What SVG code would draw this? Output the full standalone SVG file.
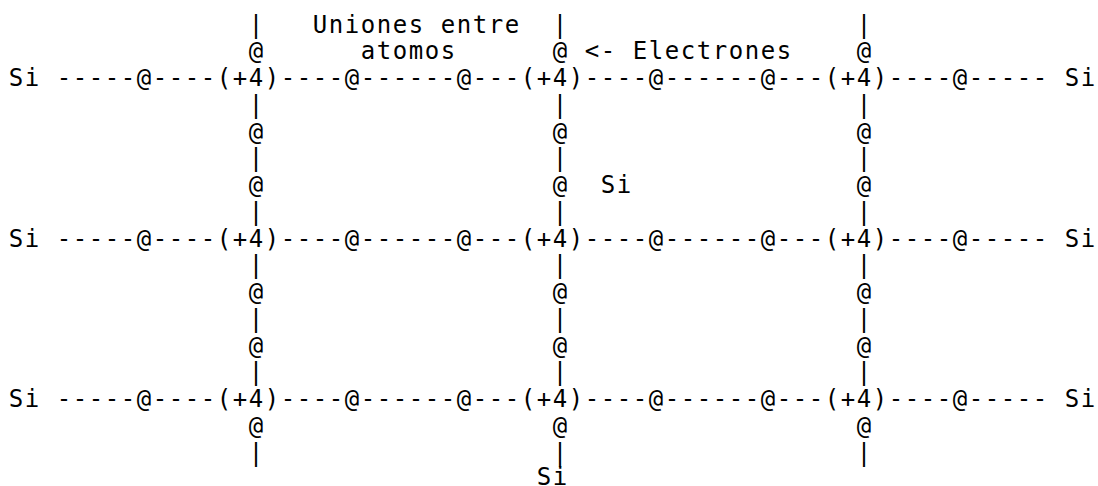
<svg xmlns="http://www.w3.org/2000/svg" width="1098" height="486" viewBox="0 0 1098 486">
  <style>
    text { font-family: "DejaVu Sans Mono", "Liberation Mono", monospace; font-size: 24px; letter-spacing: 1.55px; fill: #000; }
  </style>
  <rect width="1098" height="486" fill="#fff"/>

  <!-- Bonds: dashes, shared electrons (@) and vertical links, on a 16px character grid.
       Columns: x = 248.8 / 552.8 / 856.8; rows step 26.75px. -->
  <g id="connectors">
    <!-- column 1 -->
    <g id="col-1">
      <text x="248.8" y="32.5">|</text>
      <text x="248.8" y="59.25">@</text>
      <text x="248.8" y="112.75">|</text>
      <text x="248.8" y="139.5">@</text>
      <text x="248.8" y="166.25">|</text>
      <text x="248.8" y="193">@</text>
      <text x="248.8" y="219.75">|</text>
      <text x="248.8" y="273.25">|</text>
      <text x="248.8" y="300">@</text>
      <text x="248.8" y="326.75">|</text>
      <text x="248.8" y="353.5">@</text>
      <text x="248.8" y="380.25">|</text>
      <text x="248.8" y="433.75">@</text>
      <text x="248.8" y="460.5">|</text>
    </g>
    <!-- column 2 -->
    <g id="col-2">
      <text x="552.8" y="32.5">|</text>
      <text x="552.8" y="59.25">@</text>
      <text x="552.8" y="112.75">|</text>
      <text x="552.8" y="139.5">@</text>
      <text x="552.8" y="166.25">|</text>
      <text x="552.8" y="193">@</text>
      <text x="552.8" y="219.75">|</text>
      <text x="552.8" y="273.25">|</text>
      <text x="552.8" y="300">@</text>
      <text x="552.8" y="326.75">|</text>
      <text x="552.8" y="353.5">@</text>
      <text x="552.8" y="380.25">|</text>
      <text x="552.8" y="433.75">@</text>
      <text x="552.8" y="460.5">|</text>
    </g>
    <!-- column 3 -->
    <g id="col-3">
      <text x="856.8" y="32.5">|</text>
      <text x="856.8" y="59.25">@</text>
      <text x="856.8" y="112.75">|</text>
      <text x="856.8" y="139.5">@</text>
      <text x="856.8" y="166.25">|</text>
      <text x="856.8" y="193">@</text>
      <text x="856.8" y="219.75">|</text>
      <text x="856.8" y="273.25">|</text>
      <text x="856.8" y="300">@</text>
      <text x="856.8" y="326.75">|</text>
      <text x="856.8" y="353.5">@</text>
      <text x="856.8" y="380.25">|</text>
      <text x="856.8" y="433.75">@</text>
      <text x="856.8" y="460.5">|</text>
    </g>
    <!-- horizontal bonds, lattice row 1 -->
    <g id="row-1">
      <text x="56.8" y="86">-----@----</text>
      <text x="280.8" y="86">----@------@---</text>
      <text x="584.8" y="86">----@------@---</text>
      <text x="888.8" y="86">----@-----</text>
    </g>
    <!-- horizontal bonds, lattice row 2 -->
    <g id="row-2">
      <text x="56.8" y="246.5">-----@----</text>
      <text x="280.8" y="246.5">----@------@---</text>
      <text x="584.8" y="246.5">----@------@---</text>
      <text x="888.8" y="246.5">----@-----</text>
    </g>
    <!-- horizontal bonds, lattice row 3 -->
    <g id="row-3">
      <text x="56.8" y="407">-----@----</text>
      <text x="280.8" y="407">----@------@---</text>
      <text x="584.8" y="407">----@------@---</text>
      <text x="888.8" y="407">----@-----</text>
    </g>
  </g>

  <!-- Silicon cores (+4) -->
  <g id="atom-1-1"><text x="216.8" y="86">(+4)</text></g>
  <g id="atom-1-2"><text x="520.8" y="86">(+4)</text></g>
  <g id="atom-1-3"><text x="824.8" y="86">(+4)</text></g>
  <g id="atom-2-1"><text x="216.8" y="246.5">(+4)</text></g>
  <g id="atom-2-2"><text x="520.8" y="246.5">(+4)</text></g>
  <g id="atom-2-3"><text x="824.8" y="246.5">(+4)</text></g>
  <g id="atom-3-1"><text x="216.8" y="407">(+4)</text></g>
  <g id="atom-3-2"><text x="520.8" y="407">(+4)</text></g>
  <g id="atom-3-3"><text x="824.8" y="407">(+4)</text></g>

  <!-- Neighbouring Si atoms -->
  <g id="si-left-1"><text x="8.8" y="86">Si</text></g>
  <g id="si-right-1"><text x="1064.8" y="86">Si</text></g>
  <g id="si-left-2"><text x="8.8" y="246.5">Si</text></g>
  <g id="si-right-2"><text x="1064.8" y="246.5">Si</text></g>
  <g id="si-left-3"><text x="8.8" y="407">Si</text></g>
  <g id="si-right-3"><text x="1064.8" y="407">Si</text></g>
  <g id="si-center"><text x="600.8" y="193">Si</text></g>
  <g id="si-bottom"><text x="536.8" y="484.5">Si</text></g>

  <!-- Annotations -->
  <g id="label-uniones">
    <text x="312.8" y="32.5">Uniones entre</text>
    <text x="360.8" y="59.25">atomos</text>
  </g>
  <g id="label-electrones"><text x="584.8" y="59.25">&lt;- Electrones</text></g>
</svg>
